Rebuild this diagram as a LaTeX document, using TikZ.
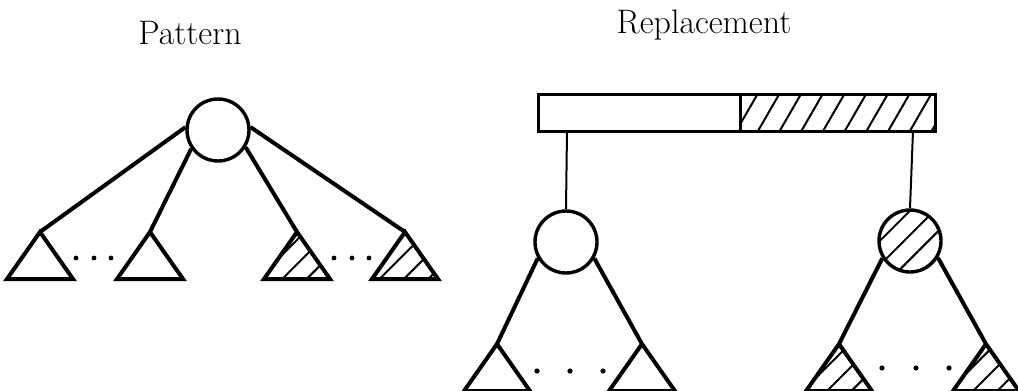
\documentclass[tikz,border=0pt]{standalone}
\usetikzlibrary{patterns.meta}
\begin{document}
\begin{tikzpicture}[x=0.5pt,y=-0.5pt,
  edge/.style={line width=2pt},
  thinedge/.style={line width=1pt},
  hatch/.style={pattern={Lines[angle=45,distance=8.6pt,line width=1pt]}},
  barhatch/.style={pattern={Lines[angle=60,distance=9.4pt,line width=1pt]}},
  treenode/.style={circle,draw,line width=1.7pt,minimum size=31pt,inner sep=0pt},
  half/.style={rectangle,draw,line width=1.5pt,minimum height=18.5pt,inner sep=0pt},
  title/.style={font=\fontsize{17}{20}\selectfont,anchor=base,inner sep=0pt},
  tri/.pic={\draw[edge] (0,0) -- (-33,47) -- (33,47) -- cycle;},
  htri/.pic={\fill[hatch] (0,0) -- (-33,47) -- (33,47) -- cycle;
             \draw[edge] (0,0) -- (-33,47) -- (33,47) -- cycle;},
  dot/.style={fill=black}
]
\useasboundingbox (0,0) rectangle (1018,391);

% titles
\node[title] (tp) at (190,44) {Pattern};
\node[title] (tr) at (704,33) {Replacement};

% ---------- Pattern ----------
\node[treenode] (r) at (218,130) {};
\coordinate (a1) at (40,232);
\coordinate (a2) at (150,232);
\coordinate (a3) at (297,232);
\coordinate (a4) at (405,232);
\pic at (a1) {tri};
\pic at (a2) {tri};
\pic at (a3) {htri};
\pic at (a4) {htri};
\draw[edge] (r.175) -- (a1);
\draw[edge] (r.215) -- (a2);
\draw[edge] (r.328) -- (a3);
\draw[edge] (r.5) -- (a4);
\foreach \x in {76,94,111} \fill[dot] (\x,258) circle (2.4);
\foreach \x in {334,352,369} \fill[dot] (\x,258) circle (2.4);

% ---------- Replacement ----------
\node[half,minimum width=101pt] (lh) at (639,112.5) {};
\node[half,barhatch,minimum width=97.5pt] (rh) at (837.5,112.5) {};
\node[treenode] (c1) at (566,242) {};
\node[treenode,hatch] (c2) at (910,241) {};
\coordinate (v1) at (567,131);
\coordinate (v2) at (913,131);
\draw[thinedge] (v1) -- (c1.north);
\draw[thinedge] (v2) -- (c2.north);

\coordinate (b1) at (497,344);
\coordinate (b2) at (642,344);
\coordinate (b3) at (839,344);
\coordinate (b4) at (986,344);
\pic at (b1) {tri};
\pic at (b2) {tri};
\pic at (b3) {htri};
\pic at (b4) {htri};
\draw[edge] (c1.210) -- (b1);
\draw[edge] (c1.330) -- (b2);
\draw[edge] (c2.212) -- (b3);
\draw[edge] (c2.329) -- (b4);
\foreach \x in {537,570,603} \fill[dot] (\x,371) circle (2.6);
\foreach \x in {882,916,949} \fill[dot] (\x,368) circle (2.6);
\end{tikzpicture}
\end{document}
